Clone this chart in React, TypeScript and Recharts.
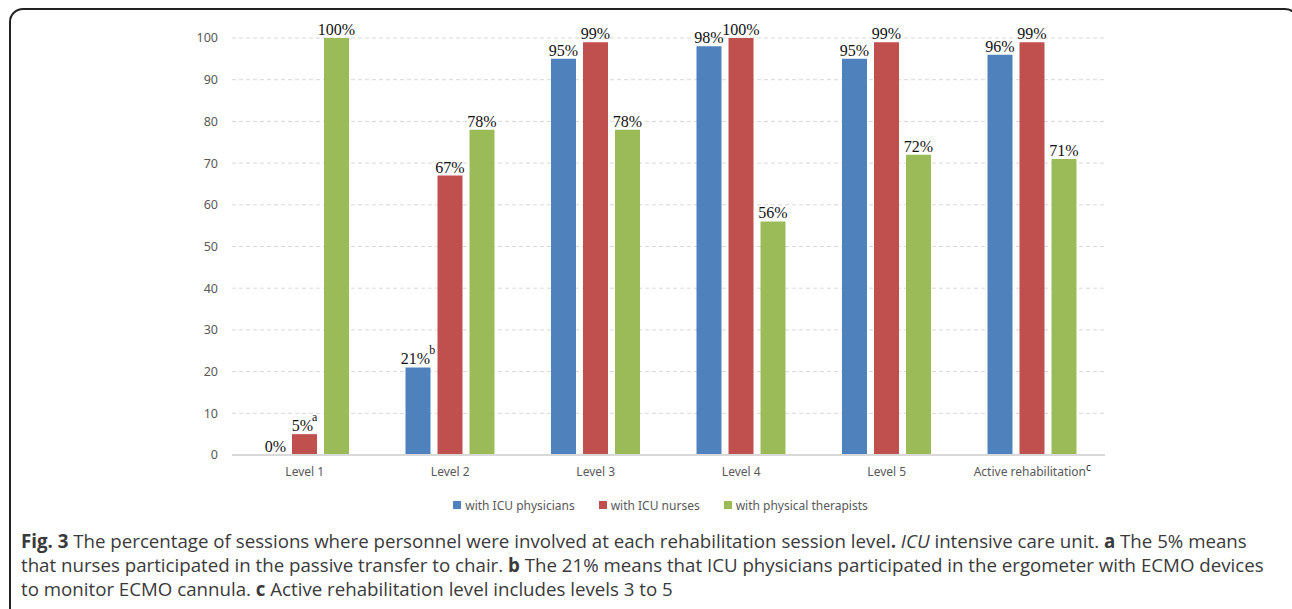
import { BarChart, Bar, XAxis, YAxis, CartesianGrid, Legend, LabelList, Cell } from 'recharts';

const categories = ['Level 1', 'Level 2', 'Level 3', 'Level 4', 'Level 5', 'Active rehabilitation'];
const categoryNotes = ['', '', '', '', '', 'c'];
const physicians = [0, 21, 95, 98, 95, 96];
const nurses = [5, 67, 99, 100, 99, 99];
const therapists = [100, 78, 78, 56, 72, 71];
const physicianNotes = ['', 'b', '', '', '', ''];
const nurseNotes = ['a', '', '', '', '', ''];
const therapistNotes = ['', '', '', '', '', ''];
const yTicks = [0, 10, 20, 30, 40, 50, 60, 70, 80, 90, 100];

const series = [
  { key: 'physicians', name: 'with ICU physicians', color: '#4F81BD', values: physicians, notes: physicianNotes },
  { key: 'nurses', name: 'with ICU nurses', color: '#C0504D', values: nurses, notes: nurseNotes },
  { key: 'therapists', name: 'with physical therapists', color: '#9BBB59', values: therapists, notes: therapistNotes },
];

const data = categories.map((name, i) => ({
  name,
  physicians: physicians[i],
  nurses: nurses[i],
  therapists: therapists[i],
}));

const sans = '"Noto Sans", "Open Sans", sans-serif';
const serif = '"Liberation Serif", "Times New Roman", serif';

function makeLabel(values: number[], notes: string[]) {
  return (props: any) => {
    const { x, y, width, index } = props;
    const value = values[index];
    const note = notes[index];
    // zero bars are drawn 1px tall and transparent, so put the label on the axis
    const top = value === 0 ? y + props.height : y;
    const shift = value === 0 ? 3 : 0;
    return (
      <text x={x + width / 2 + shift} y={top - 3} textAnchor="middle" fontFamily={serif} fontSize={16} fill="#111">
        <tspan>{value}%</tspan>
        {note ? <tspan dx={-1} dy={-10} fontSize={12}>{note}</tspan> : null}
      </text>
    );
  };
}

function CategoryTick(props: any) {
  const { x, y, payload, index } = props;
  const note = categoryNotes[index];
  return (
    <text x={x} y={y} dy="0.71em" textAnchor="middle" fontFamily={sans} fontSize={12} fill="#595959">
      <tspan>{payload.value}</tspan>
      {note ? <tspan dy={-5} fontSize={10} fill="#222">{note}</tspan> : null}
    </text>
  );
}

function LegendContent() {
  return (
    <div style={{ display: 'flex', justifyContent: 'center', gap: 24, height: 20, alignItems: 'center', paddingLeft: 24 }}>
      {series.map(s => (
        <div key={s.key} style={{ display: 'flex', alignItems: 'center', fontFamily: sans, fontSize: 12, color: '#595959' }}>
          <span style={{ display: 'inline-block', width: 8, height: 8, background: s.color, marginRight: 4 }} />
          {s.name}
        </div>
      ))}
    </div>
  );
}

export default function App() {
  return (
    <div style={{ position: 'absolute', left: 0, top: 0, width: 1292, height: 609, background: '#fff', overflow: 'hidden' }}>
      <div style={{ position: 'absolute', left: 9, top: 8, width: 1290, height: 640, border: '2px solid #222', borderRadius: 14, boxSizing: 'border-box' }} />
      <div style={{ position: 'absolute', left: 0, top: 0 }}>
        <BarChart width={1292} height={530} data={data} margin={{ top: 38, right: 187, left: 192, bottom: 15 }} barSize={25} barGap={7}>
          <CartesianGrid vertical={false} stroke="#d9d9d9" strokeDasharray="4 3" />
          <XAxis dataKey="name" height={40} tickLine={false} tickMargin={6} stroke="#d9d9d9" strokeWidth={2} tick={<CategoryTick />} interval={0} />
          <YAxis width={40} domain={[0, 100]} ticks={yTicks} axisLine={false} tickLine={false} tickMargin={8} tick={{ fontFamily: sans, fontSize: 12.5, fill: '#595959' }} />
          <Legend verticalAlign="bottom" content={<LegendContent />} />
          {series.map(s => (
            <Bar key={s.key} dataKey={s.key} name={s.name} fill={s.color} minPointSize={1} isAnimationActive={false}>
              {s.values.map((v, i) => (
                <Cell key={i} fill={v === 0 ? 'transparent' : s.color} />
              ))}
              <LabelList dataKey={s.key} content={makeLabel(s.values, s.notes)} />
            </Bar>
          ))}
        </BarChart>
      </div>
      <div style={{ position: 'absolute', left: 21, top: 529, width: 1270, fontFamily: '"Open Sans", sans-serif', fontSize: 18.7, lineHeight: '24px', color: '#3a3a3a', whiteSpace: 'nowrap' }}>
        <div><b>Fig. 3</b> The percentage of sessions where personnel were involved at each rehabilitation session level<b>.</b> <i>ICU</i> intensive care unit. <b>a</b> The 5% means</div>
        <div>that nurses participated in the passive transfer to chair. <b>b</b> The 21% means that ICU physicians participated in the ergometer with ECMO devices</div>
        <div>to monitor ECMO cannula. <b>c</b> Active rehabilitation level includes levels 3 to 5</div>
      </div>
    </div>
  );
}
